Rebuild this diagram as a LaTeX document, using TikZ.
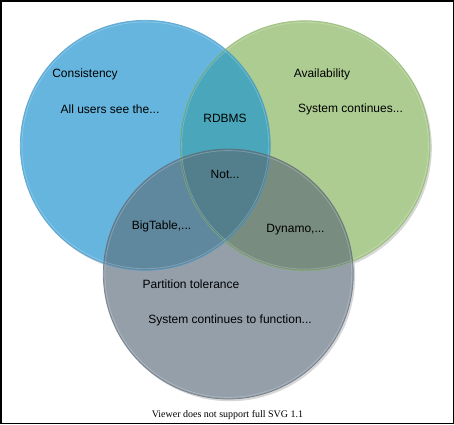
\documentclass[tikz,border=0pt]{standalone}
\usepackage{fontspec}
\setmainfont{Liberation Sans}
\newfontfamily\viewerfont{Liberation Serif}
\definecolor{blueC}{RGB}{101,181,222}
\definecolor{greenA}{RGB}{173,204,145}
\definecolor{grayP}{RGB}{148,159,170}
\definecolor{regBG}{RGB}{74,166,186}
\definecolor{regBP}{RGB}{95,135,157}
\definecolor{regGP}{RGB}{121,140,128}
\definecolor{regBGP}{RGB}{83,127,141}
\definecolor{edgeC}{RGB}{80,155,200}
\definecolor{edgeA}{RGB}{140,180,110}
\definecolor{edgeP}{RGB}{95,108,122}
\definecolor{shadowc}{RGB}{215,215,215}
\tikzset{
  lbl/.style={inner sep=0pt, font=\fontsize{12}{14}\selectfont, text=black},
  shadowfill/.style={fill=shadowc},
  edge/.style={line width=0.75pt, draw opacity=0.7},
  hilite/.style={line width=0.8pt, draw=white, draw opacity=0.22}
}
\def\rr{125}
\begin{document}
\begin{tikzpicture}[x=1pt,y=-1pt]
\useasboundingbox (0,0) rectangle (454,424);
\fill[white] (0,0) rectangle (454,424);
\coordinate (cC) at (145.3,145.3);
\coordinate (cA) at (305.0,145.7);
\coordinate (cP) at (228.3,274.0);
% shadows
\fill[shadowfill] ([shift={(1.8,2.2)}]cC) circle (\rr);
\fill[shadowfill] ([shift={(1.8,2.2)}]cA) circle (\rr);
\fill[shadowfill] ([shift={(1.8,2.2)}]cP) circle (\rr);
% base fills
\fill[blueC] (cC) circle (\rr);
\fill[greenA] (cA) circle (\rr);
\fill[grayP] (cP) circle (\rr);
% intersections
\begin{scope}
  \clip (cA) circle (\rr);
  \fill[regGP] (cP) circle (\rr);
\end{scope}
\begin{scope}
  \clip (cC) circle (\rr);
  \fill[regBG] (cA) circle (\rr);
  \fill[regBP] (cP) circle (\rr);
  \clip (cA) circle (\rr);
  \fill[regBGP] (cP) circle (\rr);
\end{scope}
% highlights
\draw[hilite] (cC) circle (\rr-1.6);
\draw[hilite] (cA) circle (\rr-1.6);
\draw[hilite] (cP) circle (\rr-1.6);
% edges
\draw[edge, draw=edgeC] (cC) circle (\rr);
\draw[edge, draw=edgeA] (cA) circle (\rr);
\draw[edge, draw=edgeP] (cP) circle (\rr);
% labels
\node[lbl] (tC) at (85,74.7) {Consistency};
\node[lbl] (dC) at (110,109.7) {All users see the...};
\node[lbl] (tCA) at (225,118.7) {RDBMS};
\node[lbl] (tA) at (322,74.7) {Availability};
\node[lbl] (dA) at (350.5,109.7) {System continues...};
\node[lbl] (tAll) at (225,174.7) {Not...};
\node[lbl] (tCP) at (161.5,226.7) {BigTable,...};
\node[lbl] (tAP) at (295.5,230) {Dynamo,...};
\node[lbl] (tP) at (191,284.3) {Partition tolerance};
\node[lbl] (dP) at (230,320) {System continues to function...};
\node[inner sep=0pt, font=\viewerfont\fontsize{10}{12}\selectfont] (viewer) at (227.5,415.3) {Viewer does not support full SVG 1.1};
% frame
\draw[line width=1.5pt, black] (0.75,0.75) rectangle (453.25,423.25);
\end{tikzpicture}
\end{document}
